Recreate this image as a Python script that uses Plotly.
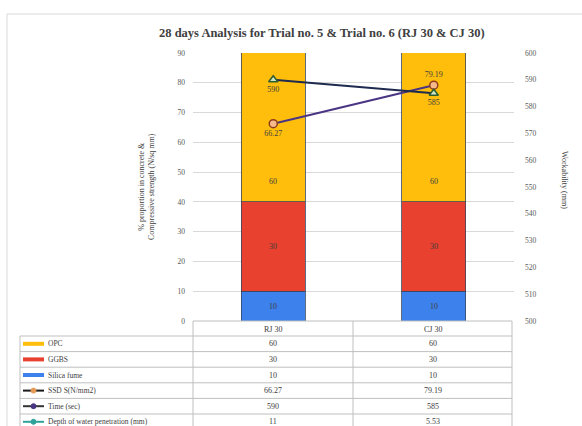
import plotly.graph_objects as go

# ---- data ----
categories = ["RJ 30", "CJ 30"]
opc = [60, 60]
ggbs = [30, 30]
silica_fume = [10, 10]
ssd_strength = [66.27, 79.19]
time_sec = [590, 585]
depth_penetration = [11, 5.53]

series_names = ["OPC", "GGBS", "Silica fume", "SSD S(N/mm2)", "Time (sec)",
                "Depth of water penetration (mm)"]
table_values = [opc, ggbs, silica_fume, ssd_strength, time_sec, depth_penetration]

left_ticks = list(range(0, 91, 10))
right_ticks = list(range(500, 601, 10))

# ---- styling ----
W, H = 582, 426
FONT = "Liberation Serif"
C_OPC, C_GGBS, C_SF = "#FFBE0B", "#E8412F", "#3D81EC"
C_SSD_LINE, C_SSD_MK, C_SSD_MK_LINE = "#4A3585", "#F6B98A", "#8E3B1E"
C_TIME_LINE, C_TIME_MK, C_TIME_MK_LINE = "#1E2A4F", "#CFE6C4", "#2F5D2F"
C_DEPTH = "#2FA39A"
GRID = "#D9D9D9"
TXT = "#404040"

def X(px):
    return px / W

def Y(py):
    return 1 - py / H

def note(x, y, text, size=8, xanchor="center", **kw):
    return dict(x=X(x), y=Y(y), xref="paper", yref="paper", text=text, showarrow=False,
                xanchor=xanchor, yanchor="middle", font=dict(family=FONT, size=size, color=TXT), **kw)

plot_l, plot_r, plot_t, plot_b = 193, 514, 53, 321

fig = go.Figure()

for name, vals, col in [("Silica fume", silica_fume, C_SF), ("GGBS", ggbs, C_GGBS), ("OPC", opc, C_OPC)]:
    fig.add_trace(go.Bar(x=categories, y=vals, name=name,
                         marker=dict(color=col, line=dict(width=0.8, color="#3A4660")),
                         showlegend=False, hoverinfo="skip"))

fig.add_trace(go.Scatter(
    x=categories, y=ssd_strength, mode="lines+markers+text", yaxis="y",
    line=dict(color=C_SSD_LINE, width=2),
    marker=dict(symbol="circle", size=8, color=C_SSD_MK, line=dict(color=C_SSD_MK_LINE, width=1.5)),
    text=[f"{v:.2f}" for v in ssd_strength], textposition=["bottom center", "top center"],
    textfont=dict(family=FONT, size=8, color=TXT), showlegend=False))

fig.add_trace(go.Scatter(
    x=categories, y=time_sec, mode="lines+markers+text", yaxis="y2",
    line=dict(color=C_TIME_LINE, width=2),
    marker=dict(symbol="triangle-up", size=8, color=C_TIME_MK, line=dict(color=C_TIME_MK_LINE, width=1.5)),
    text=[str(v) for v in time_sec], textposition="bottom center",
    textfont=dict(family=FONT, size=8, color=TXT), showlegend=False))

fig.add_trace(go.Scatter(
    x=categories, y=depth_penetration, mode="lines+markers", yaxis="y2",
    line=dict(color=C_DEPTH, width=2), marker=dict(size=6, color=C_DEPTH),
    showlegend=False))

annotations = []
shapes = []

# bar value labels
for i, c in enumerate(categories):
    for yv, txt in [(silica_fume[i] / 2, silica_fume[i]),
                    (silica_fume[i] + ggbs[i] / 2, ggbs[i]),
                    (silica_fume[i] + ggbs[i] + 7, opc[i])]:
        annotations.append(dict(x=c, y=yv, xref="x", yref="y", text=str(txt), showarrow=False,
                                xanchor="center", yanchor="middle",
                                font=dict(family=FONT, size=8, color=TXT)))

# title
annotations.append(note(322, 33, "<b>28 days Analysis for Trial no. 5 & Trial no. 6 (RJ 30 & CJ 30)</b>",
                        size=12.5))
# axis titles
annotations.append(note(146, 187, "% proportion in concrete &<br>Compressive strength (N/sq mm)",
                        size=8, textangle=-90))
annotations.append(note(565, 180, "Workability (mm)", size=8, textangle=90))

# chart border
shapes.append(dict(type="rect", xref="paper", yref="paper", x0=X(7), x1=X(640), y0=Y(14), y1=Y(460),
                   line=dict(color="#D9D9D9", width=1)))

# ---- data table ----
col_edges = [193, 353, 512]
leg_l = 20
hdr_top, hdr_bot = 321, 336
row_h = 15.6
line_col = "#BFBFBF"

for xe in col_edges:
    shapes.append(dict(type="line", xref="paper", yref="paper", x0=X(xe), x1=X(xe),
                       y0=Y(hdr_top), y1=Y(H + 5), line=dict(color=line_col, width=1)))
shapes.append(dict(type="line", xref="paper", yref="paper", x0=X(leg_l), x1=X(leg_l),
                   y0=Y(hdr_bot), y1=Y(H + 5), line=dict(color=line_col, width=1)))
shapes.append(dict(type="line", xref="paper", yref="paper", x0=X(col_edges[0]), x1=X(col_edges[-1]),
                   y0=Y(hdr_top), y1=Y(hdr_top), line=dict(color=line_col, width=1)))
for r in range(len(series_names) + 1):
    yy = hdr_bot + r * row_h
    shapes.append(dict(type="line", xref="paper", yref="paper", x0=X(leg_l), x1=X(col_edges[-1]),
                       y0=Y(yy), y1=Y(yy), line=dict(color=line_col, width=1)))

for i, c in enumerate(categories):
    cx = (col_edges[i] + col_edges[i + 1]) / 2
    annotations.append(note(cx, (hdr_top + hdr_bot) / 2 + 0.5, c, size=8))

key_styles = [
    ("bar", C_OPC, None),
    ("bar", C_GGBS, None),
    ("bar", C_SF, None),
    ("line", "#1A1A1A", "#E69A55"),
    ("line", "#333333", "#4A3585"),
    ("line", C_DEPTH, C_DEPTH),
]

for r, (name, vals) in enumerate(zip(series_names, table_values)):
    cy = hdr_bot + r * row_h + row_h / 2
    kind, col, mk = key_styles[r]
    if kind == "bar":
        shapes.append(dict(type="line", xref="paper", yref="paper", x0=X(23), x1=X(44), y0=Y(cy), y1=Y(cy),
                           line=dict(color=col, width=4)))
    else:
        shapes.append(dict(type="line", xref="paper", yref="paper", x0=X(23), x1=X(44), y0=Y(cy), y1=Y(cy),
                           line=dict(color=col, width=2)))
        shapes.append(dict(type="circle", xref="paper", yref="paper", x0=X(31), x1=X(36),
                           y0=Y(cy + 2.5), y1=Y(cy - 2.5), fillcolor=mk, line=dict(color=mk, width=1)))
    annotations.append(note(46, cy, name, size=7.5, xanchor="left"))
    for i in range(len(categories)):
        cx = (col_edges[i] + col_edges[i + 1]) / 2
        annotations.append(note(cx, cy, f"{vals[i]:g}", size=8))

fig.update_layout(
    width=W, height=H, margin=dict(l=0, r=0, t=0, b=0),
    paper_bgcolor="white", plot_bgcolor="white",
    barmode="stack", bargap=0.6, showlegend=False,
    xaxis=dict(domain=[X(plot_l), X(plot_r)], range=[-0.5, 1.5], showticklabels=False,
               showgrid=False, zeroline=False, showline=False, automargin=False, fixedrange=True),
    yaxis=dict(domain=[Y(plot_b), Y(plot_t)], range=[0, 90], tickvals=left_ticks,
               showgrid=True, gridcolor=GRID, gridwidth=1, zeroline=False, showline=False,
               tickfont=dict(family=FONT, size=7.5, color="#595959"), ticks="", ticklabelstandoff=7,
               automargin=False),
    yaxis2=dict(overlaying="y", side="right", range=[500, 600], tickvals=right_ticks,
                showgrid=False, zeroline=False, showline=False,
                tickfont=dict(family=FONT, size=7.5, color="#595959"), ticks="", ticklabelstandoff=10,
                automargin=False),
    annotations=annotations, shapes=shapes,
)

fig.write_html("out.html")
